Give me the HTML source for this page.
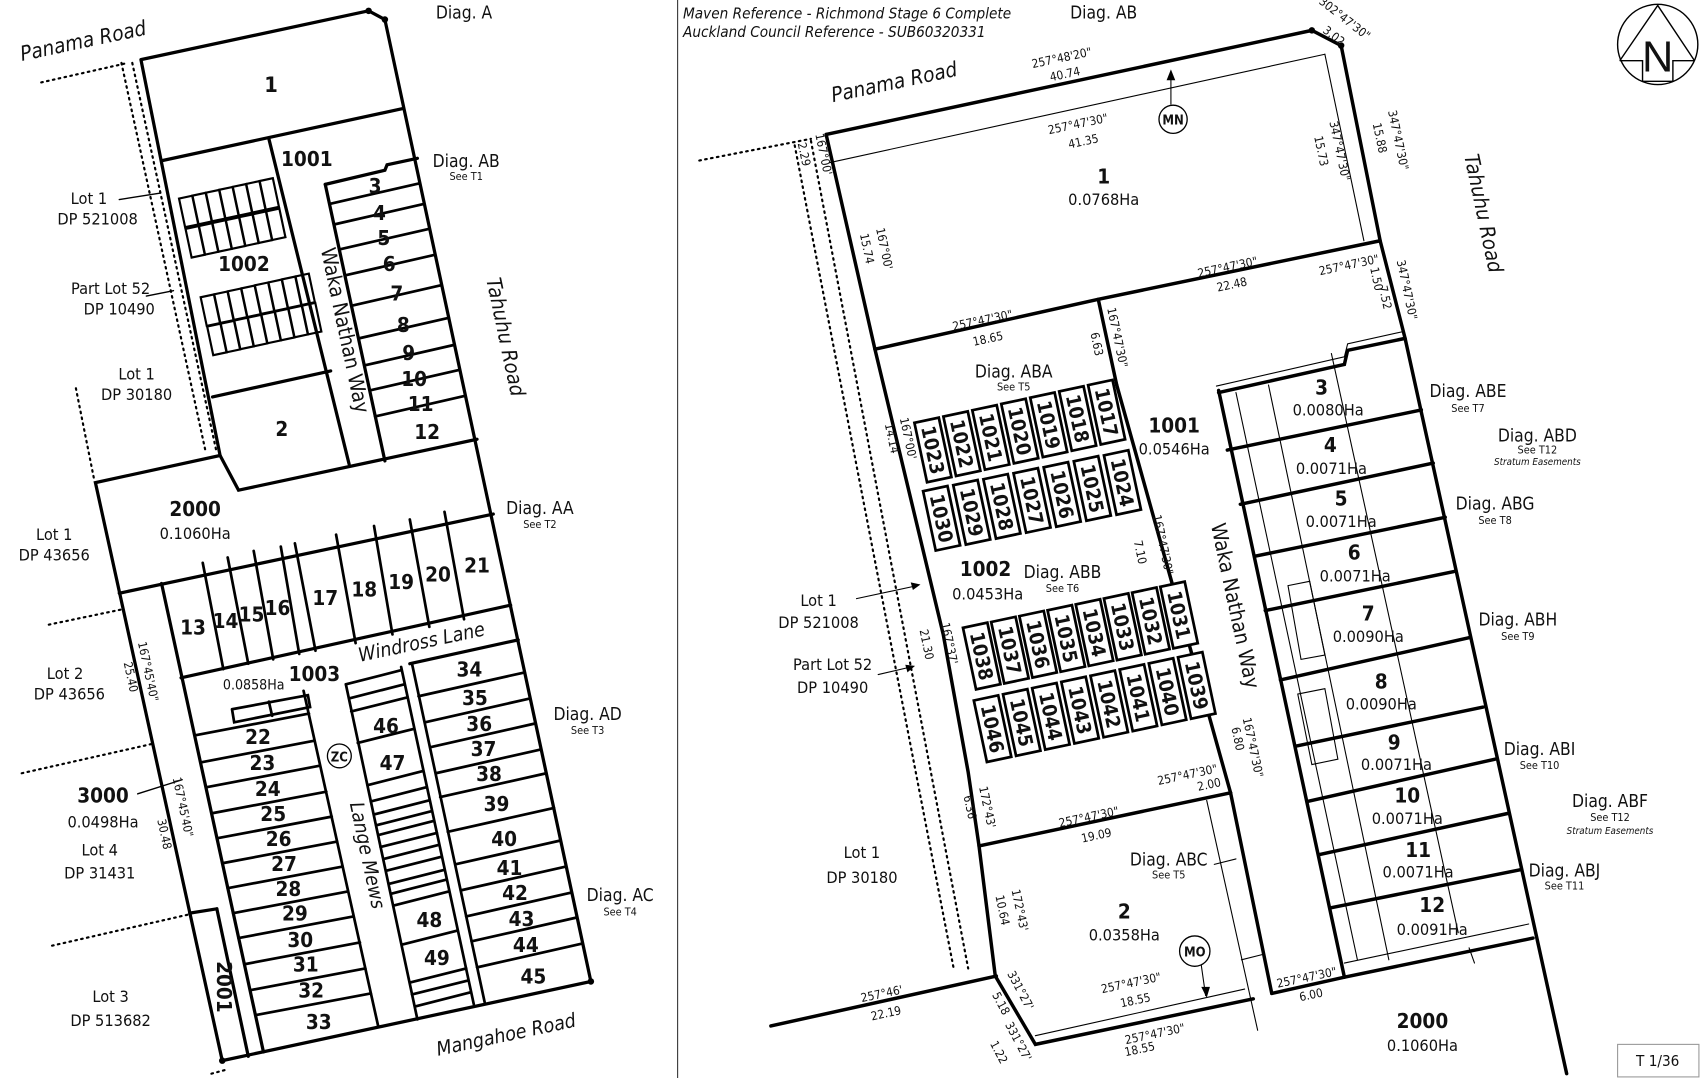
<!DOCTYPE html>
<html><head><meta charset="utf-8"><style>
html,body{margin:0;padding:0;background:#fff;}
svg{display:block;}
text{font-family:"DejaVu Sans Condensed","Liberation Sans Narrow","Liberation Sans",sans-serif;fill:#111;}
.b{font-weight:bold;}
.n{font-size:15px;}
.s{font-size:10px;}
.d{font-size:11px;}
.i{font-style:italic;}
</style></head><body>
<svg width="1700" height="1078" viewBox="0 0 1568 994" preserveAspectRatio="none" xmlns="http://www.w3.org/2000/svg">
<rect x="0" y="0" width="1568" height="994" fill="#fff"/>
<line x1="625" y1="0" x2="625" y2="994" stroke="#333" stroke-width="1"/>

<!-- ================= LEFT DIAGRAM ================= -->
<g stroke="#000" fill="none" stroke-linecap="round">
<g stroke-dasharray="1.5 4" stroke-width="2">
<line x1="38" y1="76" x2="118" y2="58"/>
<line x1="112" y1="58" x2="190" y2="418"/>
<line x1="122" y1="58" x2="200" y2="418"/>
<line x1="70" y1="358" x2="87" y2="443"/>
<line x1="45" y1="576" x2="112" y2="562"/>
<line x1="20" y1="713" x2="140" y2="686"/>
<line x1="48" y1="872" x2="175" y2="843"/>
<line x1="195" y1="990" x2="210" y2="986"/>
</g>
<g stroke-width="3">
<polyline points="130,55 340,10 355,18 545,905 205,978 88,445 203,420 130,55"/>
<polyline points="203,420 220,452 440,405"/>
<line x1="150" y1="148" x2="372" y2="100"/>
<line x1="248" y1="128" x2="322" y2="428"/>
<line x1="300" y1="170" x2="355" y2="425"/>
<polyline points="300,170 355,157 357,152 385,146"/>
<line x1="196" y1="366" x2="305" y2="342"/>
<line x1="110" y1="547" x2="455" y2="474"/>
<line x1="149" y1="538" x2="243" y2="970"/>
<line x1="167" y1="625" x2="471" y2="558"/>
<line x1="378" y1="612" x2="478" y2="590"/>
<line x1="175" y1="842" x2="200" y2="838"/>
<line x1="200" y1="838" x2="229" y2="974"/>
</g>
<g stroke-width="2.5">
<line x1="304" y1="188" x2="387" y2="169"/>
<line x1="308" y1="207" x2="391" y2="188"/>
<line x1="313" y1="230" x2="396" y2="211"/>
<line x1="318" y1="254" x2="401" y2="235"/>
<line x1="324" y1="282" x2="407" y2="263"/>
<line x1="331" y1="312" x2="414" y2="293"/>
<line x1="336" y1="337" x2="419" y2="318"/>
<line x1="341" y1="360" x2="424" y2="341"/>
<line x1="346" y1="384" x2="429" y2="365"/>
<line x1="187" y1="519" x2="206" y2="617"/>
<line x1="210" y1="514" x2="229" y2="612"/>
<line x1="234" y1="508" x2="252" y2="608"/>
<line x1="259" y1="504" x2="276" y2="603"/>
<line x1="272" y1="501" x2="291" y2="600"/>
<line x1="310" y1="493" x2="328" y2="593"/>
<line x1="345" y1="485" x2="362" y2="585"/>
<line x1="378" y1="479" x2="396" y2="578"/>
<line x1="410" y1="472" x2="428" y2="571"/>
<line x1="280" y1="637" x2="349" y2="947"/>
<line x1="319" y1="631" x2="385" y2="940"/>
<line x1="370" y1="615" x2="437" y2="926"/>
<line x1="380" y1="612" x2="447" y2="924"/>
<line x1="180" y1="678" x2="285" y2="658"/>
<line x1="185" y1="703" x2="290" y2="683"/>
<line x1="190" y1="726" x2="295" y2="706"/>
<line x1="195" y1="750" x2="301" y2="730"/>
<line x1="200" y1="773" x2="306" y2="753"/>
<line x1="205" y1="796" x2="311" y2="776"/>
<line x1="210" y1="819" x2="316" y2="799"/>
<line x1="215" y1="842" x2="321" y2="822"/>
<line x1="220" y1="865" x2="326" y2="845"/>
<line x1="226" y1="889" x2="332" y2="869"/>
<line x1="231" y1="913" x2="337" y2="893"/>
<line x1="236" y1="936" x2="342" y2="916"/>
<line x1="386" y1="642" x2="484" y2="620"/>
<line x1="392" y1="666" x2="489" y2="644"/>
<line x1="397" y1="689" x2="494" y2="667"/>
<line x1="402" y1="713" x2="499" y2="691"/>
<line x1="406" y1="735" x2="504" y2="713"/>
<line x1="413" y1="767" x2="511" y2="745"/>
<line x1="420" y1="797" x2="517" y2="775"/>
<line x1="425" y1="821" x2="522" y2="799"/>
<line x1="430" y1="845" x2="527" y2="823"/>
<line x1="435" y1="868" x2="532" y2="846"/>
<line x1="440" y1="892" x2="537" y2="870"/>
<line x1="319" y1="631" x2="370" y2="618"/>
<line x1="322" y1="644" x2="373" y2="631"/>
<line x1="324" y1="656" x2="376" y2="643"/>
<line x1="330" y1="685" x2="382" y2="672"/>
<line x1="339" y1="724" x2="390" y2="711"/>
<line x1="342" y1="739" x2="393" y2="726"/>
<line x1="345" y1="751" x2="396" y2="738"/>
<line x1="347" y1="761" x2="398" y2="748"/>
<line x1="349" y1="770" x2="400" y2="757"/>
<line x1="351" y1="781" x2="403" y2="768"/>
<line x1="354" y1="792" x2="405" y2="779"/>
<line x1="356" y1="803" x2="407" y2="790"/>
<line x1="359" y1="815" x2="410" y2="802"/>
<line x1="361" y1="824" x2="412" y2="811"/>
<line x1="363" y1="835" x2="414" y2="822"/>
<line x1="371" y1="871" x2="422" y2="858"/>
<line x1="378" y1="906" x2="430" y2="893"/>
<line x1="380" y1="917" x2="432" y2="904"/>
<line x1="383" y1="928" x2="434" y2="915"/>
<polyline points="214,654 284,641 286,652 216,666 214,654"/>
<line x1="248" y1="647" x2="251" y2="660"/>
</g>
<g stroke-width="1.3">
<line x1="110" y1="184" x2="148" y2="178"/>
<line x1="135" y1="273" x2="160" y2="268"/>
<line x1="127" y1="732" x2="168" y2="719"/>
</g>
</g>
<!-- mini units left -->
<g stroke="#000" stroke-width="2" fill="none">
<g transform="translate(174,195) rotate(-12)"><rect x="-6.2" y="-13.5" width="12.4" height="27"/></g>
<g transform="translate(186.4,192.3) rotate(-12)"><rect x="-6.2" y="-13.5" width="12.4" height="27"/></g>
<g transform="translate(198.8,189.6) rotate(-12)"><rect x="-6.2" y="-13.5" width="12.4" height="27"/></g>
<g transform="translate(211.2,186.9) rotate(-12)"><rect x="-6.2" y="-13.5" width="12.4" height="27"/></g>
<g transform="translate(223.6,184.2) rotate(-12)"><rect x="-6.2" y="-13.5" width="12.4" height="27"/></g>
<g transform="translate(236,181.5) rotate(-12)"><rect x="-6.2" y="-13.5" width="12.4" height="27"/></g>
<g transform="translate(248.4,178.8) rotate(-12)"><rect x="-6.2" y="-13.5" width="12.4" height="27"/></g>
<g transform="translate(180,223) rotate(-12)"><rect x="-6.2" y="-13.5" width="12.4" height="27"/></g>
<g transform="translate(192.4,220.3) rotate(-12)"><rect x="-6.2" y="-13.5" width="12.4" height="27"/></g>
<g transform="translate(204.8,217.6) rotate(-12)"><rect x="-6.2" y="-13.5" width="12.4" height="27"/></g>
<g transform="translate(217.2,214.9) rotate(-12)"><rect x="-6.2" y="-13.5" width="12.4" height="27"/></g>
<g transform="translate(229.6,212.2) rotate(-12)"><rect x="-6.2" y="-13.5" width="12.4" height="27"/></g>
<g transform="translate(242,209.5) rotate(-12)"><rect x="-6.2" y="-13.5" width="12.4" height="27"/></g>
<g transform="translate(254.4,206.8) rotate(-12)"><rect x="-6.2" y="-13.5" width="12.4" height="27"/></g>
<g transform="translate(194,286) rotate(-12)"><rect x="-6.25" y="-13.5" width="12.5" height="27"/></g>
<g transform="translate(206.5,283.3) rotate(-12)"><rect x="-6.25" y="-13.5" width="12.5" height="27"/></g>
<g transform="translate(219,280.5) rotate(-12)"><rect x="-6.25" y="-13.5" width="12.5" height="27"/></g>
<g transform="translate(231.5,277.8) rotate(-12)"><rect x="-6.25" y="-13.5" width="12.5" height="27"/></g>
<g transform="translate(244,275) rotate(-12)"><rect x="-6.25" y="-13.5" width="12.5" height="27"/></g>
<g transform="translate(256.5,272.3) rotate(-12)"><rect x="-6.25" y="-13.5" width="12.5" height="27"/></g>
<g transform="translate(269,269.5) rotate(-12)"><rect x="-6.25" y="-13.5" width="12.5" height="27"/></g>
<g transform="translate(281.5,266.8) rotate(-12)"><rect x="-6.25" y="-13.5" width="12.5" height="27"/></g>
<g transform="translate(200,313) rotate(-12)"><rect x="-6.25" y="-13.5" width="12.5" height="27"/></g>
<g transform="translate(212.5,310.3) rotate(-12)"><rect x="-6.25" y="-13.5" width="12.5" height="27"/></g>
<g transform="translate(225,307.5) rotate(-12)"><rect x="-6.25" y="-13.5" width="12.5" height="27"/></g>
<g transform="translate(237.5,304.8) rotate(-12)"><rect x="-6.25" y="-13.5" width="12.5" height="27"/></g>
<g transform="translate(250,302) rotate(-12)"><rect x="-6.25" y="-13.5" width="12.5" height="27"/></g>
<g transform="translate(262.5,299.3) rotate(-12)"><rect x="-6.25" y="-13.5" width="12.5" height="27"/></g>
<g transform="translate(275,296.5) rotate(-12)"><rect x="-6.25" y="-13.5" width="12.5" height="27"/></g>
<g transform="translate(287.5,293.8) rotate(-12)"><rect x="-6.25" y="-13.5" width="12.5" height="27"/></g>
</g>
<circle cx="340" cy="10" r="3" fill="#000"/><circle cx="355" cy="18" r="3" fill="#000"/>
<circle cx="545" cy="905" r="3" fill="#000"/><circle cx="205" cy="978" r="3" fill="#000"/>
<circle cx="313" cy="697" r="11" fill="#fff" stroke="#000" stroke-width="1.2"/>
<text x="313" y="702" font-size="12" text-anchor="middle" class="b">ZC</text>

<g text-anchor="middle">
<text x="78" y="44" font-size="19" class="i" transform="rotate(-12 78 44)">Panama Road</text>
<text x="428" y="17" font-size="16">Diag. A</text>
<text x="250" y="85" font-size="20" class="b">1</text>
<text x="283" y="153" font-size="19" class="b">1001</text>
<text x="430" y="154" font-size="16">Diag. AB</text>
<text x="430" y="166" class="s">See T1</text>
<text x="82" y="188" class="n">Lot 1</text><text x="90" y="207" class="n">DP 521008</text>
<text x="225" y="250" font-size="19" class="b">1002</text>
<text x="102" y="271" class="n">Part Lot 52</text><text x="110" y="290" class="n">DP 10490</text>
<text x="126" y="350" class="n">Lot 1</text><text x="126" y="369" class="n">DP 30180</text>
<text x="312" y="306" font-size="19" transform="rotate(78 312 306)">Waka Nathan Way</text>
<text x="460" y="312" font-size="19" class="i" transform="rotate(78 460 312)">Tahuhu Road</text>
<g font-size="19" class="b">
<text x="346" y="178">3</text><text x="350" y="203">4</text><text x="354" y="226">5</text><text x="359" y="250">6</text><text x="366" y="277">7</text><text x="372" y="306">8</text><text x="377" y="332">9</text><text x="382" y="356">10</text><text x="388" y="379">11</text><text x="394" y="405">12</text>
<text x="260" y="402">2</text>
<text x="180" y="476">2000</text>
<text x="178" y="585">13</text><text x="208" y="579">14</text><text x="232" y="573">15</text><text x="256" y="567">16</text><text x="300" y="558">17</text><text x="336" y="550">18</text><text x="370" y="543">19</text><text x="404" y="536">20</text><text x="440" y="528">21</text>
<text x="290" y="628">1003</text>
<text x="238" y="686">22</text><text x="242" y="710">23</text><text x="247" y="734">24</text><text x="252" y="757">25</text><text x="257" y="780">26</text><text x="262" y="803">27</text><text x="266" y="826">28</text><text x="272" y="849">29</text><text x="277" y="873">30</text><text x="282" y="896">31</text><text x="287" y="920">32</text><text x="294" y="949">33</text>
<text x="433" y="624">34</text><text x="438" y="650">35</text><text x="442" y="674">36</text><text x="446" y="697">37</text><text x="451" y="720">38</text><text x="458" y="748">39</text><text x="465" y="780">40</text><text x="470" y="807">41</text><text x="475" y="830">42</text><text x="481" y="854">43</text><text x="485" y="878">44</text><text x="492" y="907">45</text>
<text x="356" y="676">46</text><text x="362" y="710">47</text><text x="396" y="855">48</text><text x="403" y="890">49</text>
<text x="95" y="740">3000</text>
<text x="200" y="910" transform="rotate(90 200 910)">2001</text>
</g>
<text x="180" y="497" class="n">0.1060Ha</text>
<text x="498" y="474" font-size="16">Diag. AA</text><text x="498" y="487" class="s">See T2</text>
<text x="50" y="498" class="n">Lot 1</text><text x="50" y="517" class="n">DP 43656</text>
<text x="390" y="598" font-size="18" class="i" transform="rotate(-12 390 598)">Windross Lane</text>
<text x="234" y="636" font-size="13">0.0858Ha</text>
<text x="60" y="626" class="n">Lot 2</text><text x="64" y="645" class="n">DP 43656</text>
<text x="117" y="625" class="d" transform="rotate(78 117 625)">25.40</text>
<text x="133" y="620" class="d" transform="rotate(78 133 620)">167°45'40"</text>
<text x="333" y="790" font-size="18" class="i" transform="rotate(78 333 790)">Lange Mews</text>
<text x="95" y="763" class="n">0.0498Ha</text>
<text x="92" y="789" class="n">Lot 4</text><text x="92" y="810" class="n">DP 31431</text>
<text x="148" y="770" class="d" transform="rotate(78 148 770)">30.48</text>
<text x="165" y="745" class="d" transform="rotate(78 165 745)">167°45'40"</text>
<text x="542" y="664" font-size="16">Diag. AD</text><text x="542" y="677" class="s">See T3</text>
<text x="572" y="831" font-size="16">Diag. AC</text><text x="572" y="844" class="s">See T4</text>
<text x="102" y="924" class="n">Lot 3</text><text x="102" y="946" class="n">DP 513682</text>
<text x="468" y="960" font-size="18" class="i" transform="rotate(-12 468 960)">Mangahoe Road</text>
</g>

<!-- ================= RIGHT DIAGRAM ================= -->
<g stroke="#000" fill="none" stroke-linecap="round">
<g stroke-dasharray="1.5 4" stroke-width="2">
<line x1="645" y1="148" x2="748" y2="128"/>
<line x1="733" y1="134" x2="880" y2="895"/>
<line x1="748" y1="130" x2="893" y2="893"/>
</g>
<g stroke-width="3.2">
<polyline points="762,124 1210,28 1237,42 1273,222 1296,312 1445,990"/>
<polyline points="762,124 807,322 870,585 893,712 903,780 918,900"/>
<line x1="711" y1="946" x2="919" y2="900"/>
<polyline points="918,900 955,963 1156,921"/>
<line x1="1173" y1="916" x2="1240" y2="901"/>
<line x1="1240" y1="901" x2="1414" y2="865"/>
<polyline points="807,322 1013,276 1273,222"/>
<line x1="1013" y1="276" x2="1030" y2="355"/>
<line x1="1030" y1="355" x2="1135" y2="731"/>
<line x1="903" y1="780" x2="1135" y2="731"/>
<line x1="1135" y1="731" x2="1173" y2="916"/>
<line x1="1124" y1="360" x2="1240" y2="901"/>
<polyline points="1124,362 1240,336 1243,323 1296,312"/>
<line x1="1132" y1="415" x2="1311" y2="378"/>
<line x1="1144" y1="465" x2="1322" y2="427"/>
<line x1="1157" y1="513" x2="1333" y2="477"/>
<line x1="1167" y1="563" x2="1341" y2="527"/>
<line x1="1181" y1="627" x2="1355" y2="588"/>
<line x1="1195" y1="688" x2="1368" y2="652"/>
<line x1="1206" y1="739" x2="1379" y2="700"/>
<line x1="1217" y1="788" x2="1391" y2="750"/>
<line x1="1228" y1="837" x2="1402" y2="802"/>
</g>
<g stroke-width="1">
<line x1="765" y1="150" x2="1222" y2="50"/>
<line x1="1222" y1="50" x2="1258" y2="222"/>
<polyline points="1122,356 1240,329 1243,317 1293,306"/>
<line x1="1140" y1="362" x2="1252" y2="885"/>
<line x1="1170" y1="355" x2="1281" y2="885"/>
<line x1="1228" y1="326" x2="1345" y2="860"/>
<polygon points="1188,540 1208,536 1222,604 1200,608"/>
<polygon points="1197,640 1222,635 1234,700 1210,705"/>
<line x1="1240" y1="888" x2="1410" y2="852"/>
<line x1="1355" y1="874" x2="1360" y2="888"/>
<line x1="1113" y1="738" x2="1160" y2="950"/>
<line x1="955" y1="955" x2="1148" y2="912"/>
<line x1="1145" y1="885" x2="1165" y2="880"/>
<line x1="1120" y1="797" x2="1140" y2="792"/>
<line x1="1080" y1="66" x2="1080" y2="96"/>
<line x1="1108" y1="890" x2="1112" y2="918"/>
<line x1="790" y1="552" x2="846" y2="540"/>
<line x1="810" y1="622" x2="840" y2="615"/>
</g>
</g>
<polygon points="1080,64 1076,74 1084,74" fill="#000"/>
<polygon points="1113,920 1108,910 1116,910" fill="#000"/>
<polygon points="849,539 840,537 842,544" fill="#000"/>
<polygon points="844,614 835,613 837,620" fill="#000"/>
<circle cx="1210" cy="28" r="3" fill="#000"/><circle cx="1237" cy="42" r="3" fill="#000"/>

<g stroke="#000" stroke-width="2.5" fill="#fff">
<g transform="translate(860,415) rotate(-12)"><rect x="-11" y="-28" width="23" height="56"/></g>
<g transform="translate(886.7,409.2) rotate(-12)"><rect x="-11" y="-28" width="23" height="56"/></g>
<g transform="translate(913.4,403.4) rotate(-12)"><rect x="-11" y="-28" width="23" height="56"/></g>
<g transform="translate(940.1,397.6) rotate(-12)"><rect x="-11" y="-28" width="23" height="56"/></g>
<g transform="translate(966.8,391.8) rotate(-12)"><rect x="-11" y="-28" width="23" height="56"/></g>
<g transform="translate(993.5,386) rotate(-12)"><rect x="-11" y="-28" width="23" height="56"/></g>
<g transform="translate(1020.2,380.2) rotate(-12)"><rect x="-11" y="-28" width="23" height="56"/></g>
<g transform="translate(868,478) rotate(-12)"><rect x="-11" y="-28" width="23" height="56"/></g>
<g transform="translate(895.8,472.5) rotate(-12)"><rect x="-11" y="-28" width="23" height="56"/></g>
<g transform="translate(923.6,467) rotate(-12)"><rect x="-11" y="-28" width="23" height="56"/></g>
<g transform="translate(951.4,461.5) rotate(-12)"><rect x="-11" y="-28" width="23" height="56"/></g>
<g transform="translate(979.2,456) rotate(-12)"><rect x="-11" y="-28" width="23" height="56"/></g>
<g transform="translate(1007,450.5) rotate(-12)"><rect x="-11" y="-28" width="23" height="56"/></g>
<g transform="translate(1034.8,445) rotate(-12)"><rect x="-11" y="-28" width="23" height="56"/></g>
<g transform="translate(905,605) rotate(-12)"><rect x="-11" y="-29" width="23" height="58"/></g>
<g transform="translate(931,599.6) rotate(-12)"><rect x="-11" y="-29" width="23" height="58"/></g>
<g transform="translate(957,594.2) rotate(-12)"><rect x="-11" y="-29" width="23" height="58"/></g>
<g transform="translate(983,588.8) rotate(-12)"><rect x="-11" y="-29" width="23" height="58"/></g>
<g transform="translate(1009,583.4) rotate(-12)"><rect x="-11" y="-29" width="23" height="58"/></g>
<g transform="translate(1035,578) rotate(-12)"><rect x="-11" y="-29" width="23" height="58"/></g>
<g transform="translate(1061,572.6) rotate(-12)"><rect x="-11" y="-29" width="23" height="58"/></g>
<g transform="translate(1087,567.2) rotate(-12)"><rect x="-11" y="-29" width="23" height="58"/></g>
<g transform="translate(915,672) rotate(-12)"><rect x="-11" y="-29" width="23" height="58"/></g>
<g transform="translate(941.9,666.3) rotate(-12)"><rect x="-11" y="-29" width="23" height="58"/></g>
<g transform="translate(968.8,660.6) rotate(-12)"><rect x="-11" y="-29" width="23" height="58"/></g>
<g transform="translate(995.7,654.9) rotate(-12)"><rect x="-11" y="-29" width="23" height="58"/></g>
<g transform="translate(1022.6,649.2) rotate(-12)"><rect x="-11" y="-29" width="23" height="58"/></g>
<g transform="translate(1049.5,643.5) rotate(-12)"><rect x="-11" y="-29" width="23" height="58"/></g>
<g transform="translate(1076.4,637.8) rotate(-12)"><rect x="-11" y="-29" width="23" height="58"/></g>
<g transform="translate(1103.3,632.1) rotate(-12)"><rect x="-11" y="-29" width="23" height="58"/></g>
</g>
<g font-size="18" class="b" text-anchor="middle" dominant-baseline="central">
<text transform="translate(860,415) rotate(78)">1023</text>
<text transform="translate(886.7,409.2) rotate(78)">1022</text>
<text transform="translate(913.4,403.4) rotate(78)">1021</text>
<text transform="translate(940.1,397.6) rotate(78)">1020</text>
<text transform="translate(966.8,391.8) rotate(78)">1019</text>
<text transform="translate(993.5,386) rotate(78)">1018</text>
<text transform="translate(1020.2,380.2) rotate(78)">1017</text>
<text transform="translate(868,478) rotate(78)">1030</text>
<text transform="translate(895.8,472.5) rotate(78)">1029</text>
<text transform="translate(923.6,467) rotate(78)">1028</text>
<text transform="translate(951.4,461.5) rotate(78)">1027</text>
<text transform="translate(979.2,456) rotate(78)">1026</text>
<text transform="translate(1007,450.5) rotate(78)">1025</text>
<text transform="translate(1034.8,445) rotate(78)">1024</text>
<text transform="translate(905,605) rotate(78)">1038</text>
<text transform="translate(931,599.6) rotate(78)">1037</text>
<text transform="translate(957,594.2) rotate(78)">1036</text>
<text transform="translate(983,588.8) rotate(78)">1035</text>
<text transform="translate(1009,583.4) rotate(78)">1034</text>
<text transform="translate(1035,578) rotate(78)">1033</text>
<text transform="translate(1061,572.6) rotate(78)">1032</text>
<text transform="translate(1087,567.2) rotate(78)">1031</text>
<text transform="translate(915,672) rotate(78)">1046</text>
<text transform="translate(941.9,666.3) rotate(78)">1045</text>
<text transform="translate(968.8,660.6) rotate(78)">1044</text>
<text transform="translate(995.7,654.9) rotate(78)">1043</text>
<text transform="translate(1022.6,649.2) rotate(78)">1042</text>
<text transform="translate(1049.5,643.5) rotate(78)">1041</text>
<text transform="translate(1076.4,637.8) rotate(78)">1040</text>
<text transform="translate(1103.3,632.1) rotate(78)">1039</text>
</g>

<g stroke="#000" fill="none" stroke-width="1.3">
<circle cx="1529" cy="41" r="37"/>
<polyline points="1494,56 1529,5 1563,56"/>
<polyline points="1494,56 1515,56 1515,75 1543,75 1543,56 1563,56"/>
</g>
<text x="1529" y="66" font-size="40" text-anchor="middle" style="font-family:'Liberation Sans',sans-serif">N</text>

<circle cx="1082" cy="110" r="13" fill="#fff" stroke="#000" stroke-width="1.2"/>
<text x="1082" y="115" font-size="12" class="b" text-anchor="middle">MN</text>
<circle cx="1102" cy="877" r="14" fill="#fff" stroke="#000" stroke-width="1.2"/>
<text x="1102" y="882" font-size="12" class="b" text-anchor="middle">MO</text>

<rect x="1492" y="963" width="75" height="30" fill="#fff" stroke="#999" stroke-width="1"/>
<text x="1529" y="983" font-size="14" text-anchor="middle">T 1/36</text>

<text x="630" y="17" font-size="14" class="i">Maven Reference - Richmond Stage 6 Complete</text>
<text x="630" y="34" font-size="14" class="i">Auckland Council Reference - SUB60320331</text>

<g text-anchor="middle">
<text x="1018" y="17" font-size="16">Diag. AB</text>
<text x="1238" y="20" class="d" transform="rotate(38 1238 20)">302°47'30"</text>
<text x="1228" y="36" class="d" transform="rotate(38 1228 36)">3.02</text>
<text x="980" y="57" class="d" transform="rotate(-12 980 57)">257°48'20"</text>
<text x="983" y="72" class="d" transform="rotate(-12 983 72)">40.74</text>
<text x="826" y="82" font-size="19" class="i" transform="rotate(-12 826 82)">Panama Road</text>
<text x="995" y="118" class="d" transform="rotate(-12 995 118)">257°47'30"</text>
<text x="1000" y="134" class="d" transform="rotate(-12 1000 134)">41.35</text>
<text x="1018" y="169" font-size="19" class="b">1</text>
<text x="1018" y="189" class="n">0.0768Ha</text>
<text x="1232" y="140" class="d" transform="rotate(78 1232 140)">347°47'30"</text>
<text x="1215" y="140" class="d" transform="rotate(78 1215 140)">15.73</text>
<text x="1286" y="130" class="d" transform="rotate(78 1286 130)">347°47'30"</text>
<text x="1269" y="128" class="d" transform="rotate(78 1269 128)">15.88</text>
<text x="1362" y="198" font-size="19" class="i" transform="rotate(78 1362 198)">Tahuhu Road</text>
<text x="738" y="143" class="d" transform="rotate(78 738 143)">2.29</text>
<text x="756" y="143" class="d" transform="rotate(78 756 143)">167°00'</text>
<text x="812" y="230" class="d" transform="rotate(78 812 230)">167°00'</text>
<text x="796" y="230" class="d" transform="rotate(78 796 230)">15.74</text>
<text x="1133" y="250" class="d" transform="rotate(-12 1133 250)">257°47'30"</text>
<text x="1137" y="266" class="d" transform="rotate(-12 1137 266)">22.48</text>
<text x="1245" y="248" class="d" transform="rotate(-12 1245 248)">257°47'30"</text>
<text x="1266" y="258" class="d" transform="rotate(78 1266 258)">1.50</text>
<text x="1274" y="275" class="d" transform="rotate(78 1274 275)">7.52</text>
<text x="1294" y="268" class="d" transform="rotate(78 1294 268)">347°47'30"</text>
<text x="907" y="299" class="d" transform="rotate(-12 907 299)">257°47'30"</text>
<text x="912" y="316" class="d" transform="rotate(-12 912 316)">18.65</text>
<text x="1008" y="318" class="d" transform="rotate(78 1008 318)">6.63</text>
<text x="1027" y="312" class="d" transform="rotate(78 1027 312)">167°47'30"</text>
<text x="935" y="348" font-size="16">Diag. ABA</text><text x="935" y="360" class="s">See T5</text>
<text x="1083" y="399" font-size="19" class="b">1001</text>
<text x="1083" y="419" class="n">0.0546Ha</text>
<text x="834" y="405" class="d" transform="rotate(78 834 405)">167°00'</text>
<text x="819" y="405" class="d" transform="rotate(78 819 405)">14.14</text>
<g font-size="19" class="b">
<text x="1219" y="364">3</text><text x="1227" y="417">4</text><text x="1237" y="466">5</text><text x="1249" y="516">6</text><text x="1262" y="572">7</text><text x="1274" y="635">8</text><text x="1286" y="691">9</text><text x="1298" y="740">10</text><text x="1308" y="790">11</text><text x="1321" y="841">12</text>
<text x="909" y="531">1002</text>
<text x="1037" y="847">2</text>
<text x="1312" y="948">2000</text>
</g>
<g class="n">
<text x="1225" y="383">0.0080Ha</text><text x="1228" y="437">0.0071Ha</text><text x="1237" y="486">0.0071Ha</text><text x="1250" y="536">0.0071Ha</text><text x="1262" y="592">0.0090Ha</text><text x="1274" y="654">0.0090Ha</text><text x="1288" y="710">0.0071Ha</text><text x="1298" y="760">0.0071Ha</text><text x="1308" y="809">0.0071Ha</text><text x="1321" y="862">0.0091Ha</text>
<text x="911" y="553">0.0453Ha</text><text x="1037" y="867">0.0358Ha</text><text x="1312" y="969">0.1060Ha</text>
</g>
<text x="1354" y="366" font-size="16">Diag. ABE</text><text x="1354" y="380" class="s">See T7</text>
<text x="1418" y="407" font-size="16">Diag. ABD</text><text x="1418" y="418" class="s">See T12</text><text x="1418" y="429" font-size="9" class="i">Stratum Easements</text>
<text x="1379" y="470" font-size="16">Diag. ABG</text><text x="1379" y="483" class="s">See T8</text>
<text x="1400" y="577" font-size="16">Diag. ABH</text><text x="1400" y="590" class="s">See T9</text>
<text x="1420" y="696" font-size="16">Diag. ABI</text><text x="1420" y="709" class="s">See T10</text>
<text x="1485" y="744" font-size="16">Diag. ABF</text><text x="1485" y="757" class="s">See T12</text><text x="1485" y="769" font-size="9" class="i">Stratum Easements</text>
<text x="1443" y="808" font-size="16">Diag. ABJ</text><text x="1443" y="820" class="s">See T11</text>
<text x="1133" y="560" font-size="19" transform="rotate(78 1133 560)">Waka Nathan Way</text>
<text x="980" y="533" font-size="16">Diag. ABB</text><text x="980" y="546" class="s">See T6</text>
<text x="755" y="559" class="n">Lot 1</text><text x="755" y="579" class="n">DP 521008</text>
<text x="768" y="618" class="n">Part Lot 52</text><text x="768" y="639" class="n">DP 10490</text>
<text x="851" y="595" class="d" transform="rotate(78 851 595)">21.30</text>
<text x="872" y="594" class="d" transform="rotate(78 872 594)">167°37'</text>
<text x="1048" y="510" class="d" transform="rotate(78 1048 510)">7.10</text>
<text x="1069" y="503" class="d" transform="rotate(78 1069 503)">167°47'30"</text>
<text x="1152" y="690" class="d" transform="rotate(78 1152 690)">167°47'30"</text>
<text x="1138" y="682" class="d" transform="rotate(78 1138 682)">6.80</text>
<text x="1096" y="718" class="d" transform="rotate(-12 1096 718)">257°47'30"</text>
<text x="1116" y="727" class="d" transform="rotate(-12 1116 727)">2.00</text>
<text x="907" y="745" class="d" transform="rotate(78 907 745)">172°43'</text>
<text x="891" y="745" class="d" transform="rotate(78 891 745)">6.36</text>
<text x="1005" y="757" class="d" transform="rotate(-12 1005 757)">257°47'30"</text>
<text x="1012" y="774" class="d" transform="rotate(-12 1012 774)">19.09</text>
<text x="795" y="791" class="n">Lot 1</text><text x="795" y="814" class="n">DP 30180</text>
<text x="1078" y="798" font-size="16">Diag. ABC</text><text x="1078" y="810" class="s">See T5</text>
<text x="937" y="840" class="d" transform="rotate(78 937 840)">172°43'</text>
<text x="921" y="840" class="d" transform="rotate(78 921 840)">10.64</text>
<text x="1044" y="910" class="d" transform="rotate(-12 1044 910)">257°47'30"</text>
<text x="1048" y="926" class="d" transform="rotate(-12 1048 926)">18.55</text>
<text x="814" y="920" class="d" transform="rotate(-12 814 920)">257°46'</text>
<text x="818" y="938" class="d" transform="rotate(-12 818 938)">22.19</text>
<text x="938" y="915" class="d" transform="rotate(62 938 915)">331°27'</text>
<text x="920" y="927" class="d" transform="rotate(62 920 927)">5.18</text>
<text x="936" y="962" class="d" transform="rotate(62 936 962)">331°27'</text>
<text x="918" y="972" class="d" transform="rotate(62 918 972)">1.22</text>
<text x="1066" y="957" class="d" transform="rotate(-12 1066 957)">257°47'30"</text>
<text x="1052" y="971" class="d" transform="rotate(-12 1052 971)">18.55</text>
<text x="1206" y="905" class="d" transform="rotate(-12 1206 905)">257°47'30"</text>
<text x="1210" y="921" class="d" transform="rotate(-12 1210 921)">6.00</text>
</g>
</svg>
</body></html>
